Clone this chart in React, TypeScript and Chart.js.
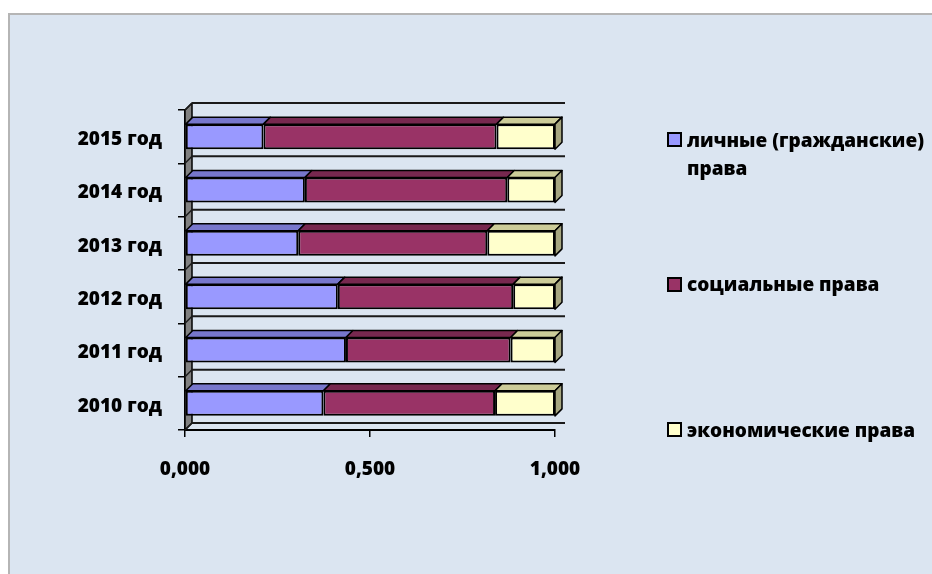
import React, { useEffect, useRef } from "react";
import { Chart, registerables } from "chart.js";
Chart.register(...registerables);

const years = ["2010 год", "2011 год", "2012 год", "2013 год", "2014 год", "2015 год"];
const personalRights = [0.374, 0.435, 0.413, 0.306, 0.324, 0.212];
const socialRights = [0.464, 0.445, 0.474, 0.511, 0.547, 0.63];
const economicRights = [0.162, 0.12, 0.113, 0.183, 0.129, 0.158];
const seriesNames = ["личные (гражданские) права", "социальные права", "экономические права"];
const xTickStep = 0.5;

const FRONT = ["#9999ff", "#993366", "#ffffcc"];
const TOP = ["#7777cc", "#77284f", "#cccc99"];
const SIDE = ["#5c5c99", "#5a1e3b", "#a6a680"];
const DX = 7;
const DY = 7;
const FONT = "'Open Sans', sans-serif";
const FSIZE = 19;
const FWEIGHT = 800;

const threeD = {
  id: "threeD",
  beforeDatasetsDraw(chart: any) {
    const { ctx, chartArea } = chart;
    const { left, right, top, bottom } = chartArea;
    const y = chart.scales.y;
    ctx.save();
    ctx.lineJoin = "round";
    ctx.beginPath();
    ctx.moveTo(left, top);
    ctx.lineTo(left + DX, top - DY);
    ctx.lineTo(left + DX, bottom - DY);
    ctx.lineTo(left, bottom);
    ctx.closePath();
    ctx.fillStyle = "#808080";
    ctx.fill();
    ctx.strokeStyle = "#000";
    ctx.lineWidth = 1.5;
    ctx.stroke();
    for (let i = 0; i <= years.length; i++) {
      const yb = y.getPixelForValue(i - 0.5);
      ctx.beginPath();
      ctx.moveTo(left + DX, yb - DY);
      ctx.lineTo(right + DX + 3, yb - DY);
      ctx.lineWidth = 2;
      ctx.strokeStyle = "#1a1a1a";
      ctx.stroke();
      ctx.beginPath();
      ctx.moveTo(left, yb);
      ctx.lineTo(left + DX, yb - DY);
      ctx.lineWidth = 1.5;
      ctx.stroke();
    }
    ctx.restore();
  },
  afterDatasetsDraw(chart: any) {
    const { ctx } = chart;
    ctx.save();
    ctx.lineJoin = "round";
    ctx.strokeStyle = "#000";
    ctx.lineWidth = 1.5;
    const n = chart.data.datasets.length;
    for (let d = 0; d < n; d++) {
      const meta = chart.getDatasetMeta(d);
      meta.data.forEach((el: any) => {
        const p = el.getProps(["x", "y", "base", "height"], true);
        const x0 = Math.min(p.base, p.x);
        const x1 = Math.max(p.base, p.x);
        const t = p.y - p.height / 2;
        const b = p.y + p.height / 2;
        ctx.beginPath();
        ctx.moveTo(x0, t);
        ctx.lineTo(x0 + DX, t - DY);
        ctx.lineTo(x1 + DX, t - DY);
        ctx.lineTo(x1, t);
        ctx.closePath();
        ctx.fillStyle = TOP[d];
        ctx.fill();
        ctx.stroke();
        if (d === n - 1) {
          ctx.beginPath();
          ctx.moveTo(x1, t);
          ctx.lineTo(x1 + DX, t - DY);
          ctx.lineTo(x1 + DX, b - DY);
          ctx.lineTo(x1, b);
          ctx.closePath();
          ctx.fillStyle = SIDE[d];
          ctx.fill();
          ctx.stroke();
        }
      });
    }
    ctx.restore();
  },
};

export default function App() {
  const ref = useRef<HTMLCanvasElement | null>(null);
  useEffect(() => {
    document.body.style.margin = "0";
    const datasets = [personalRights, socialRights, economicRights].map((data, i) => ({
      label: seriesNames[i],
      data,
      backgroundColor: FRONT[i],
      borderColor: "#000",
      borderWidth: 2,
      borderSkipped: false as const,
      barPercentage: 0.47,
      categoryPercentage: 1,
    }));
    const tickFont = { family: FONT, size: FSIZE, weight: FWEIGHT as any };
    const chart = new Chart(ref.current!, {
      type: "bar",
      data: { labels: years, datasets },
      plugins: [threeD],
      options: {
        indexAxis: "y",
        animation: false,
        responsive: true,
        maintainAspectRatio: false,
        layout: { padding: { left: 0, top: 110, right: 377, bottom: 0 } },
        plugins: { legend: { display: false }, tooltip: { enabled: false } },
        scales: {
          x: {
            type: "linear",
            stacked: true,
            min: 0,
            max: 1,
            ticks: {
              stepSize: xTickStep,
              color: "#000",
              font: tickFont,
              padding: 21,
              callback: (v: any) => Number(v).toFixed(3).replace(".", ","),
            },
            grid: { drawOnChartArea: false, drawTicks: true, tickLength: 7, color: "#000", lineWidth: 1.5 },
            border: { display: true, color: "#000", width: 2 },
            afterFit: (s: any) => { s.height = 144; },
          },
          y: {
            type: "category",
            stacked: true,
            reverse: true,
            ticks: { color: "#000", font: tickFont, padding: 16, labelOffset: 3 },
            grid: { drawOnChartArea: false, drawTicks: true, tickLength: 7, color: "#000", lineWidth: 1.5, offset: true },
            border: { display: true, color: "#000", width: 2 },
            afterFit: (s: any) => { s.width = 185; },
          },
        },
      },
    });
    return () => chart.destroy();
  }, []);

  const legendText: React.CSSProperties = {
    position: "absolute",
    left: 687,
    fontFamily: FONT,
    fontWeight: FWEIGHT,
    fontSize: FSIZE,
    lineHeight: "28px",
    color: "#000",
    whiteSpace: "nowrap",
  };
  const marker = (top: number, color: string): React.CSSProperties => ({
    position: "absolute",
    left: 667,
    top,
    width: 15,
    height: 15,
    boxSizing: "border-box",
    border: "2px solid #000",
    background: color,
  });

  return (
    <div style={{ position: "fixed", left: 0, top: 0, width: 932, height: 574, background: "#fff", overflow: "hidden" }}>
      <div style={{ position: "absolute", left: 8, top: 13, width: 940, height: 580, background: "#dbe5f1", borderLeft: "2px solid #b5b5b5", borderTop: "2px solid #b5b5b5" }} />
      <div style={{ position: "absolute", left: 0, top: 0, width: 932, height: 574 }}>
        <canvas ref={ref} />
      </div>
      <div style={marker(132, FRONT[0])} />
      <div style={{ ...legendText, top: 126 }}>личные (гражданские)<br />права</div>
      <div style={marker(277, FRONT[1])} />
      <div style={{ ...legendText, top: 270 }}>{seriesNames[1]}</div>
      <div style={marker(422, FRONT[2])} />
      <div style={{ ...legendText, top: 416 }}>{seriesNames[2]}</div>
    </div>
  );
}
